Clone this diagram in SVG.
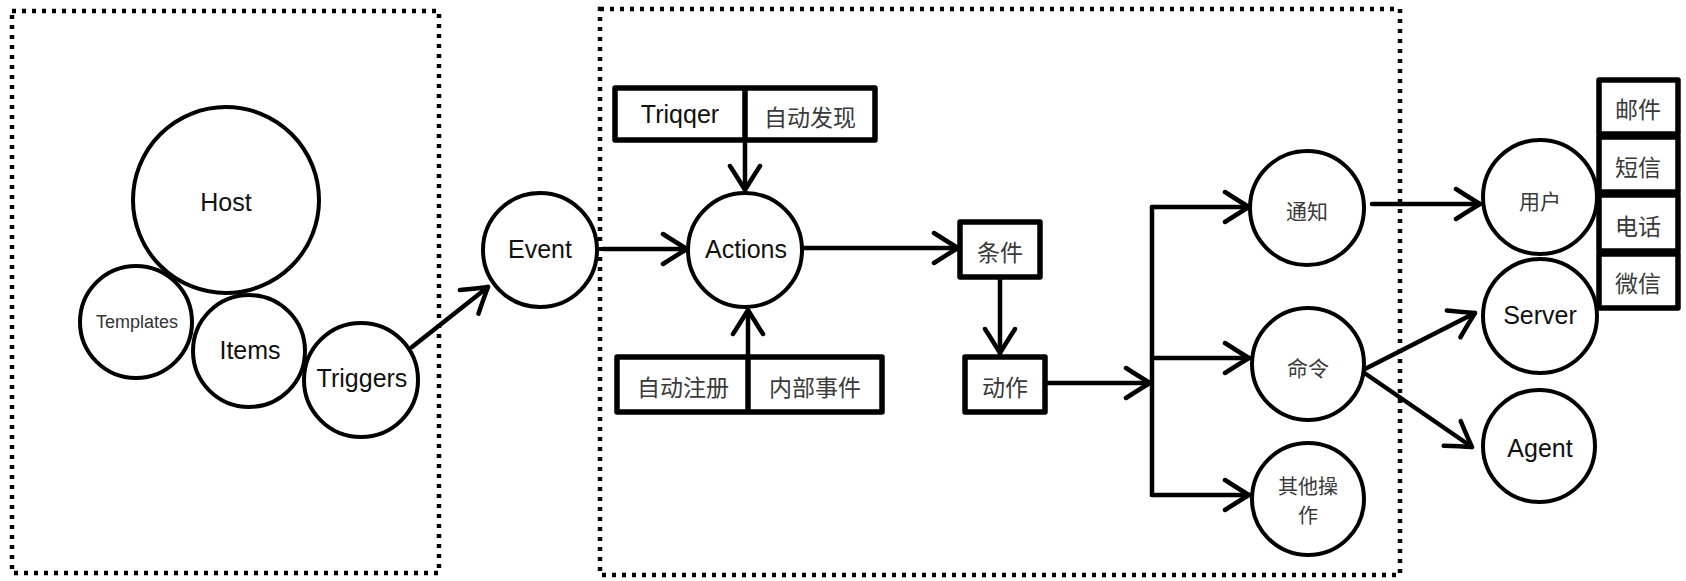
<svg xmlns="http://www.w3.org/2000/svg" width="1686" height="581" viewBox="0 0 1686 581">
<defs>
<marker id="arr" viewBox="-28 -18 32 36" refX="0" refY="0" markerWidth="32" markerHeight="36" markerUnits="userSpaceOnUse" orient="auto">
<path d="M-24,-15 Q-10,-6 0,0 Q-10,6 -24,15" fill="none" stroke="#000" stroke-width="4.5" stroke-linecap="round" stroke-linejoin="round"/>
</marker>
</defs>
<style>
.frame{fill:none;stroke:#000;stroke-width:4.5;stroke-dasharray:4 6}
.c{fill:#fff;stroke:#000;stroke-width:4}
.b{fill:#fff;stroke:#000;stroke-width:5.5;stroke-linejoin:round}
.en{font-family:"Liberation Sans",Arial,sans-serif;font-size:25px;fill:#111;text-anchor:middle;dominant-baseline:central}
.zh{font-family:"Noto Sans CJK SC","Liberation Sans",sans-serif;fill:#3a3a3a;text-anchor:middle;dominant-baseline:central}
.zc{font-size:21px}
.zb{font-size:23px}
.con{fill:none;stroke:#000;stroke-width:4.5;stroke-linecap:round;stroke-linejoin:round}
</style>
<rect width="1686" height="581" fill="#fff"/>
<rect class="frame" x="12" y="11" width="427" height="562"/>
<rect class="frame" x="600" y="9" width="800" height="566"/>

<g id="connectors">
<path class="con" d="M412,347 L488,287" marker-end="url(#arr)"/>
<path class="con" d="M603,249 L687,249" marker-end="url(#arr)"/>
<path class="con" d="M745,140 L745,190" marker-end="url(#arr)"/>
<path class="con" d="M748,357 L748,310" marker-end="url(#arr)"/>
<path class="con" d="M803,248 L958,248" marker-end="url(#arr)"/>
<path class="con" d="M1000,280 L1000,353" marker-end="url(#arr)"/>
<path class="con" d="M1045,383 L1150,383" marker-end="url(#arr)"/>
<path class="con" d="M1152,207 L1152,495"/>
<path class="con" d="M1152,207 L1249,207" marker-end="url(#arr)"/>
<path class="con" d="M1152,358 L1249,358" marker-end="url(#arr)"/>
<path class="con" d="M1152,495 L1249,495" marker-end="url(#arr)"/>
<path class="con" d="M1372,204 L1480,204" marker-end="url(#arr)"/>
<path class="con" d="M1363,370 L1475,313" marker-end="url(#arr)"/>
<path class="con" d="M1363,372 L1472,447" marker-end="url(#arr)"/>
</g>

<g id="host"><circle class="c" cx="226" cy="200" r="93"/><text class="en" x="226" y="202">Host</text></g>
<g id="templates"><circle class="c" cx="136" cy="322" r="56"/><text class="en" x="137" y="322" style="font-size:18px;fill:#333">Templates</text></g>
<g id="items"><circle class="c" cx="249" cy="351" r="56"/><text class="en" x="250" y="350">Items</text></g>
<g id="triggers"><circle class="c" cx="361" cy="380" r="57"/><text class="en" x="362" y="378">Triggers</text></g>
<g id="event"><circle class="c" cx="540" cy="250" r="57"/><text class="en" x="540" y="249">Event</text></g>
<g id="actions"><circle class="c" cx="745" cy="250" r="57"/><text class="en" x="746" y="249">Actions</text></g>

<g id="top-box">
<rect class="b" x="615" y="88" width="260" height="52"/>
<line class="b" x1="745" y1="88" x2="745" y2="140"/>
<text class="en" x="680" y="114">Triqqer</text>
<text class="zh zb" x="810" y="116">自动发现</text>
</g>
<g id="bottom-box">
<rect class="b" x="617" y="357" width="265" height="55"/>
<line class="b" x1="748" y1="357" x2="748" y2="412"/>
<text class="zh zb" x="683" y="386">自动注册</text>
<text class="zh zb" x="815" y="386">内部事件</text>
</g>
<g id="tiaojian"><rect class="b" x="960" y="222" width="80" height="55"/><text class="zh zb" x="1000" y="251">条件</text></g>
<g id="dongzuo"><rect class="b" x="965" y="357" width="80" height="55"/><text class="zh zb" x="1005" y="386">动作</text></g>

<g id="tongzhi"><circle class="c" cx="1307" cy="208" r="57"/><text class="zh zc" x="1307" y="210">通知</text></g>
<g id="mingling"><circle class="c" cx="1308" cy="364" r="56"/><text class="zh zc" x="1308" y="367">命令</text></g>
<g id="qita"><circle class="c" cx="1308" cy="499" r="56"/><text class="zh" x="1308" y="485" style="font-size:20px">其他操</text><text class="zh" x="1308" y="514" style="font-size:20px">作</text></g>

<g id="yonghu"><circle class="c" cx="1540" cy="197" r="57"/><text class="zh zc" x="1540" y="200">用户</text></g>
<g id="server"><circle class="c" cx="1540" cy="316" r="57"/><text class="en" x="1540" y="315">Server</text></g>
<g id="agent"><circle class="c" cx="1539" cy="446" r="56"/><text class="en" x="1540" y="448">Agent</text></g>

<g id="youjian"><rect class="b" x="1599" y="80" width="79" height="54"/><text class="zh zb" x="1638" y="108">邮件</text></g>
<g id="duanxin"><rect class="b" x="1599" y="137" width="79" height="55"/><text class="zh zb" x="1638" y="166">短信</text></g>
<g id="dianhua"><rect class="b" x="1599" y="195" width="79" height="56"/><text class="zh zb" x="1638" y="225">电话</text></g>
<g id="weixin"><rect class="b" x="1599" y="254" width="79" height="54"/><text class="zh zb" x="1638" y="282">微信</text></g>
</svg>
